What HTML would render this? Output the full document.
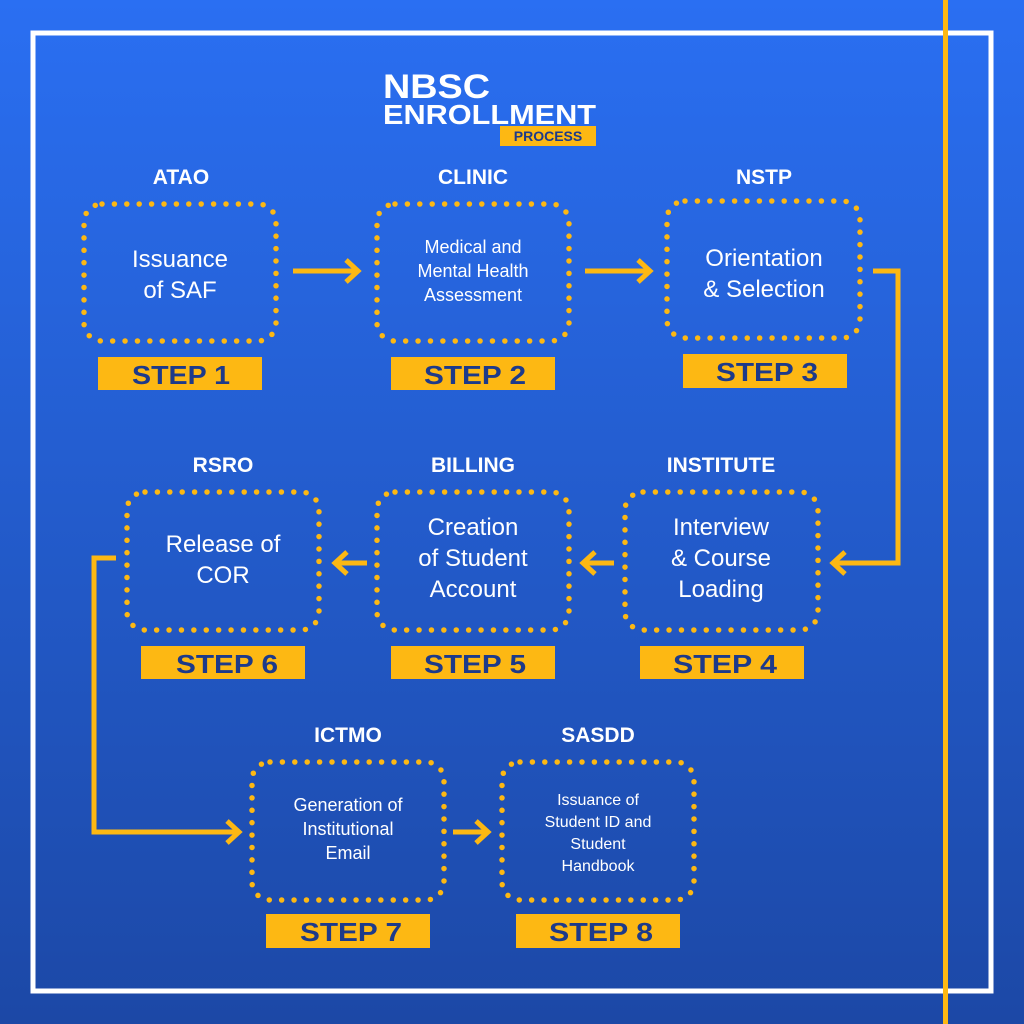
<!DOCTYPE html>
<html><head><meta charset="utf-8"><style>
html,body{margin:0;padding:0;width:1024px;height:1024px;overflow:hidden}
svg{display:block}
text{font-family:"Liberation Sans",sans-serif}
.b{font-weight:bold}
</style></head><body>
<svg width="1024" height="1024" viewBox="0 0 1024 1024">
<defs>
<linearGradient id="g" x1="0" y1="0" x2="0" y2="1">
<stop offset="0" stop-color="#2a6ff2"/><stop offset="1" stop-color="#1c48a6"/>
</linearGradient>
</defs>
<rect width="1024" height="1024" fill="url(#g)"/>
<rect x="33" y="33" width="958" height="958" fill="none" stroke="#fff" stroke-width="5"/>
<rect x="943" y="0" width="5" height="1024" fill="#fdb813"/>

<text class="b" x="383" y="98" fill="#fff" font-size="34" textLength="107" lengthAdjust="spacingAndGlyphs">NBSC</text>
<text class="b" x="383" y="124" fill="#fff" font-size="28" textLength="213" lengthAdjust="spacingAndGlyphs">ENROLLMENT</text>
<rect x="500" y="126" width="96" height="20" fill="#fdb813"/>
<text class="b" x="548" y="141" fill="#1d3a8a" font-size="14" text-anchor="middle">PROCESS</text>

<g fill="none" stroke="#fdb813" stroke-width="5.5" stroke-linecap="round" stroke-dasharray="0 12.4">
<rect x="84" y="204" width="192" height="137" rx="18"/>
<rect x="377" y="204" width="192" height="137" rx="18"/>
<rect x="667" y="201" width="193" height="137" rx="18"/>
<rect x="127" y="492" width="192" height="138" rx="18"/>
<rect x="377" y="492" width="192" height="138" rx="18"/>
<rect x="625" y="492" width="193" height="138" rx="18"/>
<rect x="252" y="762" width="192" height="138" rx="18"/>
<rect x="502" y="762" width="192" height="138" rx="18"/>
</g>

<g class="b" fill="#fff" font-size="21" text-anchor="middle">
<text x="181" y="184">ATAO</text>
<text x="473" y="184">CLINIC</text>
<text x="764" y="184">NSTP</text>
<text x="223" y="472">RSRO</text>
<text x="473" y="472">BILLING</text>
<text x="721" y="472">INSTITUTE</text>
<text x="348" y="742">ICTMO</text>
<text x="598" y="742">SASDD</text>
</g>

<g fill="#fff" text-anchor="middle">
<text font-size="24"><tspan x="180" y="267">Issuance</tspan><tspan x="180" y="298">of SAF</tspan></text>
<text font-size="18"><tspan x="473" y="253">Medical and</tspan><tspan x="473" y="277">Mental Health</tspan><tspan x="473" y="301">Assessment</tspan></text>
<text font-size="24"><tspan x="764" y="266">Orientation</tspan><tspan x="764" y="297">&amp; Selection</tspan></text>
<text font-size="24"><tspan x="223" y="552">Release of</tspan><tspan x="223" y="583">COR</tspan></text>
<text font-size="24"><tspan x="473" y="535">Creation</tspan><tspan x="473" y="566">of Student</tspan><tspan x="473" y="597">Account</tspan></text>
<text font-size="24"><tspan x="721" y="535">Interview</tspan><tspan x="721" y="566">&amp; Course</tspan><tspan x="721" y="597">Loading</tspan></text>
<text font-size="18"><tspan x="348" y="811">Generation of</tspan><tspan x="348" y="835">Institutional</tspan><tspan x="348" y="859">Email</tspan></text>
<text font-size="16"><tspan x="598" y="805">Issuance of</tspan><tspan x="598" y="827">Student ID and</tspan><tspan x="598" y="849">Student</tspan><tspan x="598" y="871">Handbook</tspan></text>
</g>

<g fill="#fdb813">
<rect x="98" y="357" width="164" height="33"/>
<rect x="391" y="357" width="164" height="33"/>
<rect x="683" y="354" width="164" height="34"/>
<rect x="141" y="646" width="164" height="33"/>
<rect x="391" y="646" width="164" height="33"/>
<rect x="640" y="646" width="164" height="33"/>
<rect x="266" y="914" width="164" height="34"/>
<rect x="516" y="914" width="164" height="34"/>
</g>
<g class="b" fill="#1d3a8a" font-size="26" text-anchor="middle">
<text x="181" y="384" textLength="98" lengthAdjust="spacingAndGlyphs">STEP 1</text>
<text x="475" y="384" textLength="102" lengthAdjust="spacingAndGlyphs">STEP 2</text>
<text x="767" y="381" textLength="102" lengthAdjust="spacingAndGlyphs">STEP 3</text>
<text x="227" y="673" textLength="102" lengthAdjust="spacingAndGlyphs">STEP 6</text>
<text x="475" y="673" textLength="102" lengthAdjust="spacingAndGlyphs">STEP 5</text>
<text x="725" y="673" textLength="104" lengthAdjust="spacingAndGlyphs">STEP 4</text>
<text x="351" y="941" textLength="102" lengthAdjust="spacingAndGlyphs">STEP 7</text>
<text x="601" y="941" textLength="104" lengthAdjust="spacingAndGlyphs">STEP 8</text>
</g>

<g fill="none" stroke="#fdb813" stroke-width="5">
<path d="M293 271H357M346 260L358 271L346 282"/>
<path d="M585 271H649M638 260L650 271L638 282"/>
<path d="M873 271H898V563H834M845 552L833 563L845 574"/>
<path d="M614 563H584M595 552L583 563L595 574"/>
<path d="M367 563H336M347 552L335 563L347 574"/>
<path d="M116 558H94V832H238M227 821L239 832L227 843"/>
<path d="M453 832H487M476 821L488 832L476 843"/>
</g>
</svg>
</body></html>
